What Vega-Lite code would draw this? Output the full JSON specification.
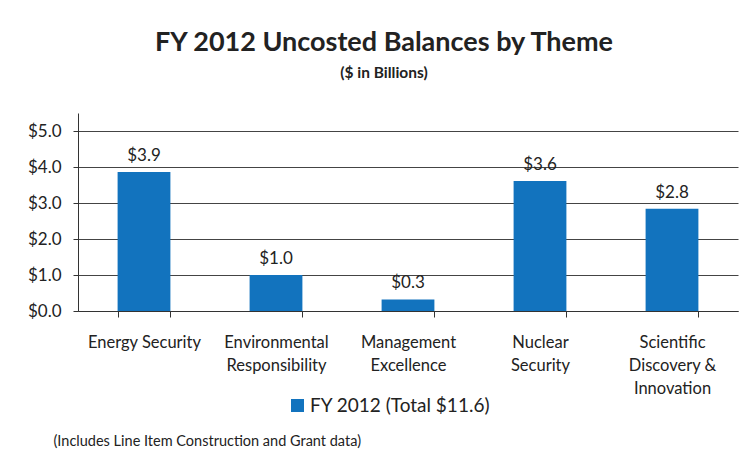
{
  "$schema": "https://vega.github.io/schema/vega-lite/v6.json",
  "width": 660,
  "height": 198,
  "autosize": {"type": "none"},
  "padding": {"left": 78, "top": 113, "right": 18, "bottom": 149},
  "background": "white",
  "title": {
    "text": "FY 2012 Uncosted Balances by Theme",
    "subtitle": "($ in Billions)",
    "font": "Lato",
    "fontSize": 27,
    "fontWeight": "bold",
    "color": "#222222",
    "subtitleFont": "Lato",
    "subtitleFontSize": 15.5,
    "subtitleFontWeight": "bold",
    "subtitleColor": "#222222",
    "subtitlePadding": 9,
    "anchor": "middle",
    "dx": -24,
    "offset": 31
  },
  "data": {
    "values": [
      {"theme": "Energy Security", "value": 3.86, "series": "FY 2012 (Total $11.6)"},
      {"theme": "Environmental Responsibility", "value": 1.0, "series": "FY 2012 (Total $11.6)"},
      {"theme": "Management Excellence", "value": 0.32, "series": "FY 2012 (Total $11.6)"},
      {"theme": "Nuclear Security", "value": 3.61, "series": "FY 2012 (Total $11.6)"},
      {"theme": "Scientific Discovery & Innovation", "value": 2.84, "series": "FY 2012 (Total $11.6)"}
    ]
  },
  "encoding": {
    "x": {
      "field": "theme",
      "type": "nominal",
      "sort": null,
      "scale": {"paddingInner": 0.6, "paddingOuter": 0.3},
      "axis": {
        "title": "(Includes Line Item Construction and Grant data)",
        "titleFont": "Lato",
        "titleFontSize": 14.5,
        "titleFontWeight": "normal",
        "titleColor": "#222222",
        "titleX": -25,
        "titleY": 130,
        "titleAlign": "left",
        "titleBaseline": "middle",
        "titleAnchor": null,
        "labelAngle": 0,
        "labelFont": "Lato",
        "labelFontSize": 16.5,
        "labelColor": "#222222",
        "labelLineHeight": 23,
        "labelPadding": 17,
        "labelExpr": "!isValid(datum.value) ? '' : datum.value == 'Scientific Discovery & Innovation' ? ['Scientific','Discovery &','Innovation'] : datum.value == 'Energy Security' ? 'Energy Security' : split(datum.value, ' ')",
        "tickBand": "extent",
        "tickSize": 6,
        "tickColor": "#333333",
        "domainColor": "#333333",
        "labelOverlap": false
      }
    },
    "y": {
      "field": "value",
      "type": "quantitative",
      "scale": {"domain": [0, 5.5], "nice": false},
      "axis": {
        "title": null,
        "values": [0, 1, 2, 3, 4, 5],
        "format": "$.1f",
        "labelFont": "Lato",
        "labelFontSize": 17,
        "labelColor": "#222222",
        "labelPadding": 12,
        "tickSize": 5,
        "tickColor": "#333333",
        "domainColor": "#333333",
        "gridColor": "#444444",
        "gridWidth": 1
      }
    }
  },
  "layer": [
    {
      "mark": {"type": "bar"},
      "encoding": {
        "color": {
          "field": "series",
          "type": "nominal",
          "scale": {"range": ["#1273BE"]},
          "legend": {
            "title": null,
            "orient": "none",
            "legendX": 210,
            "legendY": 283,
            "symbolType": "square",
            "symbolSize": 169,
            "symbolStrokeWidth": 0,
            "labelFont": "Lato",
            "labelFontSize": 19,
            "labelColor": "#222222",
            "labelOffset": 3,
            "labelLimit": 400
          }
        }
      }
    },
    {
      "mark": {"type": "text", "dy": -11, "font": "Lato", "fontSize": 17, "color": "#222222", "baseline": "alphabetic"},
      "encoding": {
        "text": {"field": "value", "type": "quantitative", "format": "$.1f"}
      }
    }
  ],
  "config": {"view": {"stroke": null}}
}
